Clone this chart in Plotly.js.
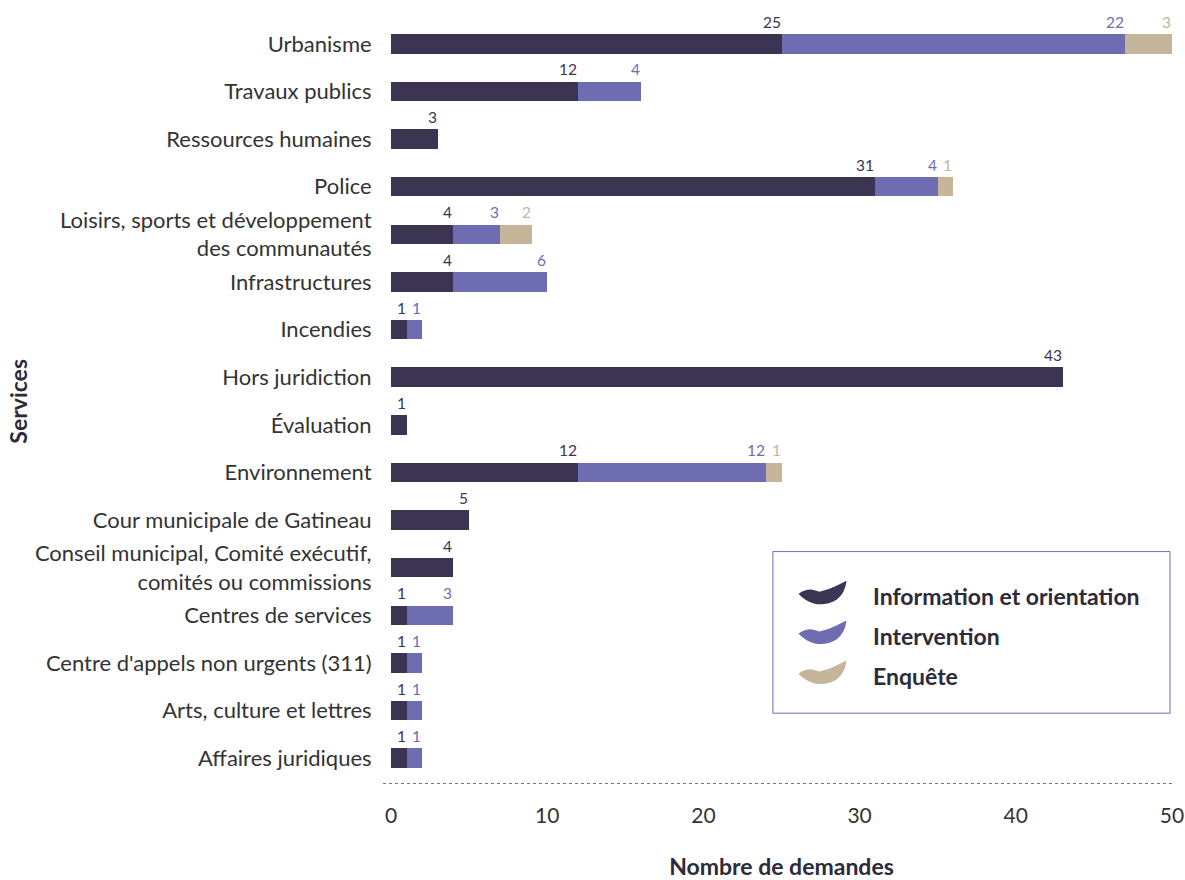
<!DOCTYPE html>
<html>
<head>
<meta charset="utf-8">
<script src="https://cdn.plot.ly/plotly-3.0.1.min.js"></script>
<style>html,body{margin:0;padding:0;background:#fff;}#chart{width:1185px;height:880px;}</style>
</head>
<body>
<div id="chart"></div>
<script>
const categories = [
  "Urbanisme",
  "Travaux publics",
  "Ressources humaines",
  "Police",
  "Loisirs, sports et développement<br>des communautés",
  "Infrastructures",
  "Incendies",
  "Hors juridiction",
  "Évaluation",
  "Environnement",
  "Cour municipale de Gatineau",
  "Conseil municipal, Comité exécutif,<br>comités ou commissions",
  "Centres de services",
  "Centre d'appels non urgents (311)",
  "Arts, culture et lettres",
  "Affaires juridiques"
];
const seriesNames = ["Information et orientation", "Intervention", "Enquête"];
const information = [25, 12, 3, 31, 4, 4, 1, 43, 1, 12, 5, 4, 1, 1, 1, 1];
const intervention = [22, 4, 0, 4, 3, 6, 1, 0, 0, 12, 0, 0, 3, 1, 1, 1];
const enquete = [3, 0, 0, 1, 2, 0, 0, 0, 0, 1, 0, 0, 0, 0, 0, 0];
const xTicks = [0, 10, 20, 30, 40, 50];

const colors = ["#3b3452", "#6f6db1", "#c4b59b"];
const FONT = "Lato, 'Source Sans Pro', sans-serif";
const allSeries = [information, intervention, enquete];

const traces = allSeries.map((vals, i) => ({
  type: "bar",
  orientation: "h",
  name: seriesNames[i],
  y: categories,
  x: vals,
  marker: {color: colors[i], line: {width: 0}},
  showlegend: false,
  hoverinfo: "x+name"
}));

// value labels at segment ends
const annotations = [];
const cum = categories.map(() => 0);
allSeries.forEach((vals, i) => {
  vals.forEach((v, j) => {
    cum[j] += v;
    if (v > 0) {
      annotations.push({
        x: cum[j], y: categories[j], xref: "x", yref: "y",
        text: String(v), showarrow: false,
        xanchor: "right", yanchor: "middle", yshift: 22, xshift: 1,
        font: {family: FONT, size: 15.5, color: colors[i]}
      });
    }
  });
});

annotations.push({
  text: "<b>Services</b>", textangle: -90, showarrow: false,
  xref: "paper", yref: "paper", x: -0.478, y: 0.5,
  xanchor: "center", yanchor: "middle",
  font: {family: FONT, size: 23, color: "#2d2a3a"}
});

// custom legend (box + swoosh symbols + labels)
const shapes = [
  {type: "line", xref: "paper", yref: "paper", x0: -0.0102, x1: 1, y0: -0.002, y1: -0.002,
   line: {color: "#6f6db1", width: 1, dash: "dot"}},
  {type: "rect", xref: "paper", yref: "paper", x0: 0.489, x1: 0.9974, y0: 0.0903, y1: 0.3024,
   line: {color: "#6f6db1", width: 1}, fillcolor: "rgba(0,0,0,0)"}
];
const swoosh = "M-24,-1 Q-16,4 -10,3 Q-6,2 -3,1 Q6,3 14,7 Q20,10 24,12 Q23,0 14,-7 Q4,-13 -8,-11 Q-18,-8 -24,-1 Z";
const legendY = [0.2435, 0.1912, 0.1388];
seriesNames.forEach((n, i) => {
  shapes.push({
    type: "path", xref: "paper", yref: "paper",
    xsizemode: "pixel", ysizemode: "pixel",
    xanchor: 0.5525, yanchor: legendY[i] + 0.005,
    path: swoosh, fillcolor: colors[i], line: {width: 0}
  });
  annotations.push({
    text: "<b>" + n + "</b>", showarrow: false,
    xref: "paper", yref: "paper", x: 0.6146, y: legendY[i],
    xanchor: "left", yanchor: "middle",
    font: {family: FONT, size: 23, color: "#2d2a3a"}
  });
});

const layout = {
  width: 1185, height: 880,
  margin: {l: 391, r: 13, t: 20, b: 98},
  paper_bgcolor: "#fff", plot_bgcolor: "#fff",
  barmode: "stack",
  bargap: 0.59,
  font: {family: FONT, size: 21, color: "#333"},
  xaxis: {
    range: [0, 50], autorange: false, tickvals: xTicks, ticktext: xTicks.map(String),
    showgrid: false, zeroline: false, showline: false,
    ticks: "outside", ticklen: 15, tickcolor: "rgba(0,0,0,0)",
    tickfont: {family: FONT, size: 21, color: "#333"},
    title: {text: "<b>Nombre de demandes</b>", standoff: 36,
            font: {family: FONT, size: 23, color: "#2d2a3a"}},
    fixedrange: true
  },
  yaxis: {
    type: "category", range: [15.5, -0.5], autorange: false,
    showgrid: false, zeroline: false, showline: false,
    ticks: "outside", ticklen: 14, tickcolor: "rgba(0,0,0,0)",
    tickfont: {family: FONT, size: 22, color: "#333"},
    fixedrange: true
  },
  annotations: annotations,
  shapes: shapes
};

Plotly.newPlot("chart", traces, layout, {displayModeBar: false, staticPlot: true});
</script>
</body>
</html>
